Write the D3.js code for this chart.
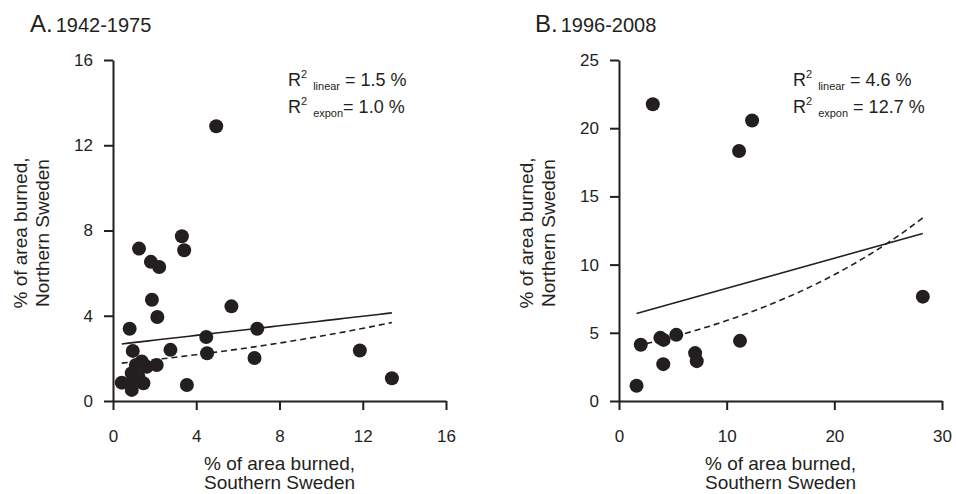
<!DOCTYPE html>
<html>
<head>
<meta charset="utf-8">
<script src="https://cdn.jsdelivr.net/npm/d3@7"></script>
<style>
  body { margin: 0; background: #fff; }
  text { font-family: "Liberation Sans", Arial, Helvetica, sans-serif; fill: #231f20; }
</style>
</head>
<body>
<script>
// panel A, 1942-1975: % burned south (x) vs north (y)
var southA = [1.25, 3.31, 3.42, 1.82, 2.22, 1.87, 2.13, 5.69, 0.80, 6.93, 4.48, 0.95, 2.76, 4.52,
              6.80, 1.38, 2.10, 1.10, 1.62, 0.90, 0.42, 0.90, 1.46, 0.90, 3.55, 4.96, 11.86, 13.40, 1.22];
var northA = [7.15, 7.73, 7.07, 6.53, 6.29, 4.75, 3.94, 4.44, 3.39, 3.39, 3.00, 2.35, 2.40, 2.24,
              2.02, 1.85, 1.69, 1.69, 1.61, 1.30, 0.86, 0.83, 0.83, 0.52, 0.75, 12.89, 2.37, 1.07, 1.14];
// panel B, 1996-2008
var southB = [3.14, 12.36, 11.15, 28.22, 11.24, 5.32, 3.84, 4.14, 2.02, 7.07, 7.22, 4.11, 1.63];
var northB = [21.76, 20.56, 18.33, 7.65, 4.41, 4.85, 4.63, 4.48, 4.12, 3.51, 2.92, 2.70, 1.12];

var ticksA = [0, 4, 8, 12, 16];
var ticksBx = [0, 10, 20, 30];
var ticksBy = [0, 5, 10, 15, 20, 25];

// fitted lines: linear y = a + b x, exponential y = a e^(b x)
var linA = [2.63, 0.1123], expA = [1.734, 0.0563];
var linB = [6.06, 0.2202], expB = [3.75, 0.0452];

var svg = d3.select("body").append("svg").attr("width", 956).attr("height", 494);

function panel(o) {
  var g = svg.append("g");
  var x = d3.scaleLinear().domain(o.xdom).range(o.xr);
  var y = d3.scaleLinear().domain(o.ydom).range([401, 60]);

  var ya = g.append("g").attr("transform", "translate(" + o.xr[0] + ",0)")
    .call(d3.axisLeft(y).tickValues(o.yt).tickSize(9).tickSizeOuter(0).tickPadding(11));
  var xa = g.append("g").attr("transform", "translate(0,401)")
    .call(d3.axisBottom(x).tickValues(o.xt).tickSize(9).tickSizeOuter(0).tickPadding(20));
  [ya, xa].forEach(function(a) {
    a.selectAll("path, line").attr("stroke", "#231f20").attr("stroke-width", 2);
    a.selectAll("text").style("font-size", "17px").attr("fill", "#231f20");
  });

  var pts = o.xs.map(function(v, i) { return [v, o.ys[i]]; });
  var lo = d3.min(o.xs), hi = d3.max(o.xs);
  var xsFit = d3.range(0, 41).map(function(i) { return lo + (hi - lo) * i / 40; });
  var line = d3.line().x(function(d) { return x(d[0]); }).y(function(d) { return y(d[1]); });

  g.append("path").attr("d", line(xsFit.map(function(v) { return [v, o.lin[0] + o.lin[1] * v]; })))
    .attr("fill", "none").attr("stroke", "#231f20").attr("stroke-width", 1.6);
  g.append("path").attr("d", line(xsFit.map(function(v) { return [v, o.exp[0] * Math.exp(o.exp[1] * v)]; })))
    .attr("fill", "none").attr("stroke", "#231f20").attr("stroke-width", 1.6).attr("stroke-dasharray", "6,4");

  g.selectAll("circle").data(pts).enter().append("circle")
    .attr("cx", function(d) { return x(d[0]); }).attr("cy", function(d) { return y(d[1]); })
    .attr("r", 7).attr("fill", "#231f20");

  // panel title
  var t = g.append("text").attr("x", o.tx).attr("y", 32);
  t.append("tspan").text(o.letter).style("font-size", "24px");
  t.append("tspan").text(o.years).style("font-size", "20px").attr("dx", 3);

  // axis titles
  var cx = (o.xr[0] + o.xr[1]) / 2;
  g.append("text").attr("x", cx).attr("y", 470).attr("text-anchor", "middle").style("font-size", "19px").text("% of area burned,");
  g.append("text").attr("x", cx).attr("y", 489).attr("text-anchor", "middle").style("font-size", "19px").text("Southern Sweden");
  g.append("text").attr("transform", "translate(" + (o.xr[0] - 86) + ",233) rotate(-90)")
    .attr("text-anchor", "middle").style("font-size", "19px").text("% of area burned,");
  g.append("text").attr("transform", "translate(" + (o.xr[0] - 64) + ",233) rotate(-90)")
    .attr("text-anchor", "middle").style("font-size", "19px").text("Northern Sweden");

  // R² notes
  [["linear", " = " + o.r2[0] + " %"], ["expon", o.r2sep + "= " + o.r2[1] + " %"]].forEach(function(r, i) {
    var tt = g.append("text").attr("x", o.rx).attr("y", 86 + i * 27).style("font-size", "18px");
    tt.append("tspan").text("R");
    tt.append("tspan").text("2").style("font-size", "11px").attr("dy", -8);
    tt.append("tspan").text(r[0]).style("font-size", "11px").attr("dy", 12).attr("dx", 6);
    tt.append("tspan").text(r[1]).attr("dy", -4);
  });
}

panel({ xdom: [0, 16], xr: [113, 446], ydom: [0, 16], xt: ticksA, yt: ticksA,
        xs: southA, ys: northA, lin: linA, exp: expA, tx: 30, letter: "A.", years: "1942-1975",
        rx: 288, r2: ["1.5", "1.0"], r2sep: "" });
panel({ xdom: [0, 30], xr: [619, 942], ydom: [0, 25], xt: ticksBx, yt: ticksBy,
        xs: southB, ys: northB, lin: linB, exp: expB, tx: 535, letter: "B.", years: "1996-2008",
        rx: 793, r2: ["4.6", "12.7"], r2sep: " " });
</script>
</body>
</html>
